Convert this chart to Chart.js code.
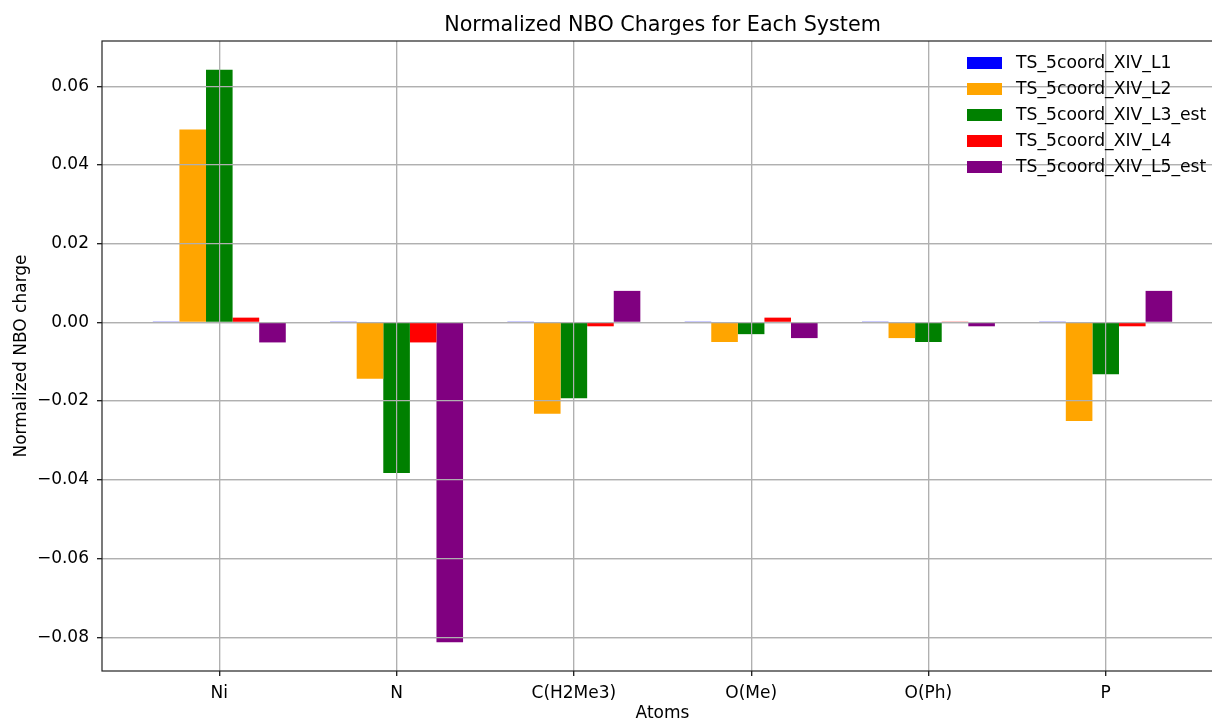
<!DOCTYPE html>
<html>
<head>
<meta charset="utf-8">
<script src="https://cdn.jsdelivr.net/npm/chart.js@4/dist/chart.umd.min.js"></script>
<style>
  html, body { margin: 0; padding: 0; background: #fff; overflow: hidden; }
</style>
</head>
<body>
<canvas id="nboChart" width="1240" height="726"></canvas>
<script>
// Atomes et charges NBO normalisées
const atoms = ['Ni', 'N', 'C(H2Me3)', 'O(Me)', 'O(Ph)', 'P'];
const systemNames = ['TS_5coord_XIV_L1', 'TS_5coord_XIV_L2', 'TS_5coord_XIV_L3_est', 'TS_5coord_XIV_L4', 'TS_5coord_XIV_L5_est'];
const systemColors = ['#0000ff', '#ffa500', '#008000', '#ff0000', '#800080'];

const chargesL1 = [0.0001, 0.0001, 0.0001, 0.0001, 0.0001, 0.0001];
const chargesL2 = [0.049, -0.0143, -0.0232, -0.005, -0.004, -0.0251];
const chargesL3 = [0.0642, -0.0383, -0.0193, -0.003, -0.005, -0.0132];
const chargesL4 = [0.0012, -0.0051, -0.001, 0.0012, 0.0001, -0.001];
const chargesL5 = [-0.0051, -0.0813, 0.008, -0.004, -0.001, 0.008];

const yTicks = [-0.08, -0.06, -0.04, -0.02, 0.0, 0.02, 0.04, 0.06];

const allCharges = [chargesL1, chargesL2, chargesL3, chargesL4, chargesL5];

const FONT = 'DejaVu Sans';
Chart.defaults.font.family = FONT;
Chart.defaults.font.size = 17;
Chart.defaults.color = '#000';

// Titre, cadre et légende dessinés par-dessus, comme matplotlib
const overlay = {
  id: 'overlay',
  afterDatasetsDraw(chart) {
    // la grille passe au-dessus des barres
    chart.scales.x.drawGrid(chart.chartArea);
    chart.scales.y.drawGrid(chart.chartArea);
  },
  afterDraw(chart) {
    const ctx = chart.ctx;
    const a = chart.chartArea;
    ctx.save();
    ctx.strokeStyle = '#222';
    ctx.lineWidth = 1.2;
    ctx.strokeRect(a.left, a.top, a.right - a.left, a.bottom - a.top);

    ctx.fillStyle = '#000';
    ctx.font = '20.7px "' + FONT + '"';
    ctx.textAlign = 'center';
    ctx.textBaseline = 'alphabetic';
    ctx.fillText('Normalized NBO Charges for Each System', (a.left + a.right) / 2, 30.5);

    // légende
    ctx.font = '17.2px "' + FONT + '"';
    ctx.textAlign = 'left';
    ctx.textBaseline = 'middle';
    chart.data.datasets.forEach((ds, i) => {
      const cy = 63 + i * 26;
      ctx.fillStyle = ds.backgroundColor;
      ctx.fillRect(967, cy - 6, 35, 12);
      ctx.fillStyle = '#000';
      ctx.fillText(ds.label, 1016, cy + 1);
    });
    ctx.restore();
  }
};

const ctx = document.getElementById('nboChart').getContext('2d');
const nboChart = new Chart(ctx, {
  type: 'bar',
  data: {
    datasets: systemNames.map((name, k) => ({
      label: name,
      data: atoms.map((at, i) => ({ x: i, y: allCharges[k][i] })),
      backgroundColor: systemColors[k],
      borderWidth: 0
    }))
  },
  options: {
    responsive: false,
    animation: false,
    layout: { padding: { top: 41, right: 17, left: 0, bottom: 0 } },
    datasets: { bar: { categoryPercentage: 0.75, barPercentage: 1.0 } },
    plugins: {
      legend: { display: false },
      tooltip: { enabled: false }
    },
    scales: {
      x: {
        type: 'linear',
        offset: false,
        min: -0.6617,
        max: 5.6617,
        afterBuildTicks: s => { s.ticks = atoms.map((at, i) => ({ value: i })); },
        afterFit: s => { s.height = 55; },
        ticks: {
          padding: 7,
          font: { size: 17 },
          callback: v => atoms[Math.round(v)]
        },
        grid: { offset: false, color: '#b0b0b0', lineWidth: 1.2, tickLength: 5, tickColor: '#222', tickWidth: 1.2 },
        border: { display: false },
        title: { display: true, text: 'Atoms', font: { size: 17 }, padding: { top: 0, bottom: 2 } }
      },
      y: {
        min: -0.0886,
        max: 0.0715,
        afterBuildTicks: s => { s.ticks = yTicks.map(v => ({ value: v })); },
        afterFit: s => { s.width = 102; },
        ticks: {
          padding: 8,
          font: { size: 17 },
          callback: v => v.toFixed(2).replace('-', '\u2212').replace('\u22120.00', '0.00')
        },
        grid: { color: '#b0b0b0', lineWidth: 1.2, tickLength: 5, tickColor: '#222', tickWidth: 1.2 },
        border: { display: false },
        title: { display: true, text: 'Normalized NBO charge', font: { size: 17 }, padding: { top: 11, bottom: 0 } }
      }
    }
  },
  plugins: [overlay]
});
</script>
</body>
</html>
